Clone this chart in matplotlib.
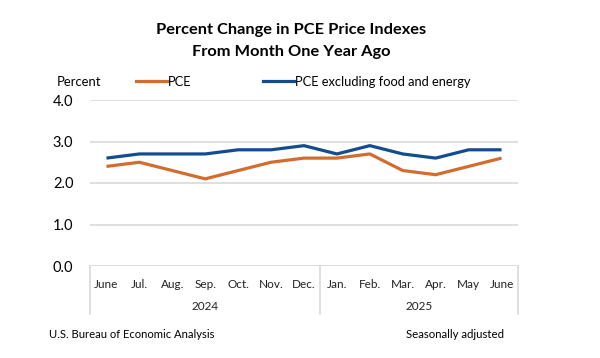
import matplotlib
matplotlib.use("Agg")
from matplotlib import pyplot as plt
from matplotlib.lines import Line2D

plt.rcParams['font.family'] = ['Lato', 'DejaVu Sans']

months = ["June", "Jul.", "Aug.", "Sep.", "Oct.", "Nov.", "Dec.",
          "Jan.", "Feb.", "Mar.", "Apr.", "May", "June"]
years = ["2024", "2025"]
year_counts = [7, 6]
pce = [2.4, 2.5, 2.3, 2.1, 2.3, 2.5, 2.6, 2.6, 2.7, 2.3, 2.2, 2.4, 2.6]
core = [2.6, 2.7, 2.7, 2.7, 2.8, 2.8, 2.9, 2.7, 2.9, 2.7, 2.6, 2.8, 2.8]

orange = "#D36D2E"
blue = "#144D8F"
grid_c = "#D9D9D9"

fig = plt.figure(figsize=(6, 3.58), dpi=100)
ax = fig.add_axes([90 / 600, 1 - 266 / 358, 428 / 600, 166 / 358])

x = list(range(len(months)))
ax.plot(x, pce, color=orange, lw=2.3, solid_capstyle="butt", zorder=3)
ax.plot(x, core, color=blue, lw=2.3, solid_capstyle="butt", zorder=3)

ax.set_xlim(-0.5, len(months) - 0.5)
ax.set_ylim(0, 4)
ax.set_yticks([0, 1, 2, 3, 4])
ax.set_yticklabels(["%.1f" % v for v in [0, 1, 2, 3, 4]], fontsize=10.5)
ax.yaxis.grid(True, color=grid_c, lw=1.2)
ax.set_axisbelow(True)
for s in ["top", "right", "left", "bottom"]:
    ax.spines[s].set_visible(False)
ax.tick_params(axis="y", length=0, pad=12)
ax.set_xticks(x)
ax.set_xticklabels(months, fontsize=8.5, color="#222222")
ax.tick_params(axis="x", length=0, pad=9)

# category box below the axis
tr = ax.get_xaxis_transform()
box_bottom = -(314 - 266) / 166
edges = [-0.5]
for c in year_counts:
    edges.append(edges[-1] + c)
for e in edges:
    ax.plot([e, e], [0, box_bottom], transform=tr, color=grid_c, lw=1.2, clip_on=False)
for i, yr in enumerate(years):
    ax.text((edges[i] + edges[i + 1]) / 2, -(307 - 266) / 166, yr, transform=tr,
            ha="center", va="center", fontsize=8.5, color="#222222")

fig.text(0.485, 1 - 30 / 358, "Percent Change in PCE Price Indexes", ha="center",
         va="center", fontsize=11.8, fontweight="bold")
fig.text(0.485, 1 - 52 / 358, "From Month One Year Ago", ha="center",
         va="center", fontsize=11.8, fontweight="bold")
fig.text(57 / 600, 1 - 82 / 358, "Percent", ha="left", va="center", fontsize=9.4)

handles = [Line2D([], [], color=orange, lw=2.3), Line2D([], [], color=blue, lw=2.3)]
fig.legend(handles, ["PCE", "PCE excluding food and energy"], loc="center left",
           bbox_to_anchor=(136 / 600, 1 - 82 / 358), ncol=2, frameon=False,
           fontsize=9.3, handlelength=2.45, handletextpad=0.05, columnspacing=5.5,
           borderaxespad=0, borderpad=0)

fig.text(49 / 600, 1 - 335 / 358, "U.S. Bureau of Economic Analysis", ha="left",
         va="center", fontsize=8.1)
fig.text(504 / 600, 1 - 335 / 358, "Seasonally adjusted", ha="right",
         va="center", fontsize=8.2)

fig.savefig("out.png", dpi=100)
